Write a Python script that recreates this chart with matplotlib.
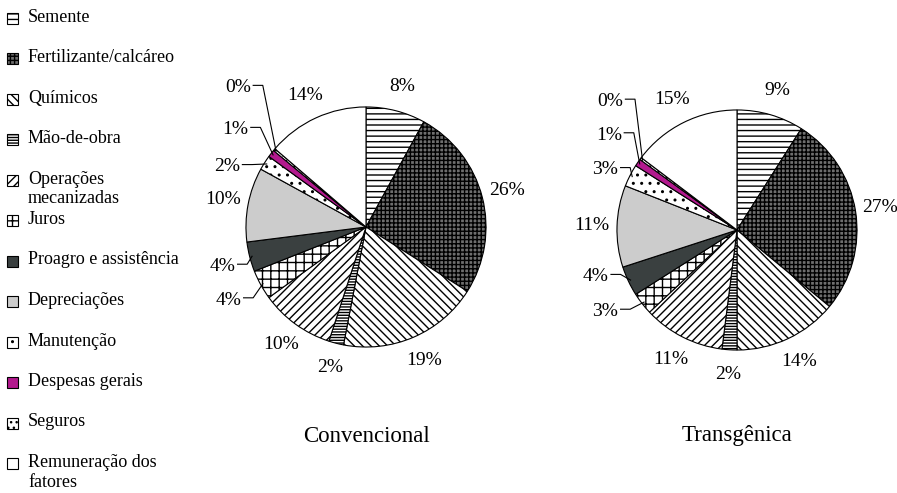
import numpy as np
import matplotlib.pyplot as plt
from matplotlib.patches import Rectangle

plt.rcParams['font.family'] = ['Liberation Serif', 'DejaVu Serif']
plt.rcParams['hatch.linewidth'] = 1.0

categorias = ['Semente', 'Fertilizante/calcáreo', 'Químicos', 'Mão-de-obra',
              'Operações\nmecanizadas', 'Juros', 'Proagro e assistência',
              'Depreciações', 'Manutenção', 'Despesas gerais', 'Seguros',
              'Remuneração dos\nfatores']
convencional = [8, 26, 19, 2, 10, 4, 4, 10, 2, 1, 0.3, 13.7]
transgenica = [9, 27, 14, 2, 11, 3, 4, 11, 3, 1, 0.3, 14.7]
titulos = ['Convencional', 'Transgênica']

# estilo de cada fatia (cor de fundo, hachura)
cores = ['white', '#6e6e6e', 'white', 'white', 'white', 'white',
         '#3a4040', '#cccccc', 'white', '#b3198e', 'white', 'white']
hachuras = ['---', '++++', '\\\\\\\\', '------', '////', '++',
            None, None, '..', None, '...', None]

# rótulos com linha de chamada: indice -> (x direita, y) em raios
chamadas = [
    {5: (-1.04, -0.61), 6: (-1.09, -0.33), 8: (-1.05, 0.50),
     9: (-0.98, 0.81), 10: (-0.96, 1.16)},
    {5: (-0.99, -0.68), 6: (-1.07, -0.39), 8: (-0.99, 0.50),
     9: (-0.96, 0.79), 10: (-0.95, 1.07)},
]
centros = [(366, 227), (737, 230)]  # px

W, H = 897, 493
fig = plt.figure(figsize=(W / 100, H / 100), dpi=100)

for k, dados in enumerate([convencional, transgenica]):
    cx, cy = centros[k]
    ax = fig.add_axes([(cx - 160) / W, (H - cy - 160) / H, 320 / W, 320 / H])
    wedges, _ = ax.pie(dados, startangle=90, counterclock=False,
                       colors=cores, radius=1.0,
                       wedgeprops=dict(edgecolor='black', linewidth=0.8))
    for w, h in zip(wedges, hachuras):
        if h:
            w.set_hatch(h)
    for i, w in enumerate(wedges):
        ang = np.deg2rad((w.theta1 + w.theta2) / 2)
        txt = '%d%%' % round(dados[i])
        if i in chamadas[k]:
            xr, yr = chamadas[k][i]
            ax.text(xr, yr, txt, ha='right', va='center', fontsize=14)
            ax.plot([xr + 0.02, xr + 0.1, 0.98 * np.cos(ang)],
                    [yr + 0.02, yr + 0.02, 0.98 * np.sin(ang)],
                    color='black', lw=0.8)
        else:
            ax.text(1.21 * np.cos(ang), 1.21 * np.sin(ang), txt,
                    ha='center', va='center', fontsize=14)
    ax.set_xlim(-1.333, 1.333)
    ax.set_ylim(-1.333, 1.333)
    ax.set_aspect('equal')
    ax.axis('off')
    fig.text(cx / W, 1 - 436 / H, titulos[k], ha='center', va='center',
             fontsize=16.5)

# legenda desenhada à mão
for i, nome in enumerate(categorias):
    y = 18 + 40.5 * i
    fig.patches.append(Rectangle((7 / W, 1 - (y + 5.5) / H), 11 / W, 11 / H,
                                 transform=fig.transFigure,
                                 facecolor=cores[i], edgecolor='black',
                                 hatch=hachuras[i], linewidth=0.8))
    fig.text(28 / W, 1 - (y - 9.5) / H, nome, ha='left', va='top',
             fontsize=13, linespacing=1.2)

fig.savefig('out.png', dpi=100)
